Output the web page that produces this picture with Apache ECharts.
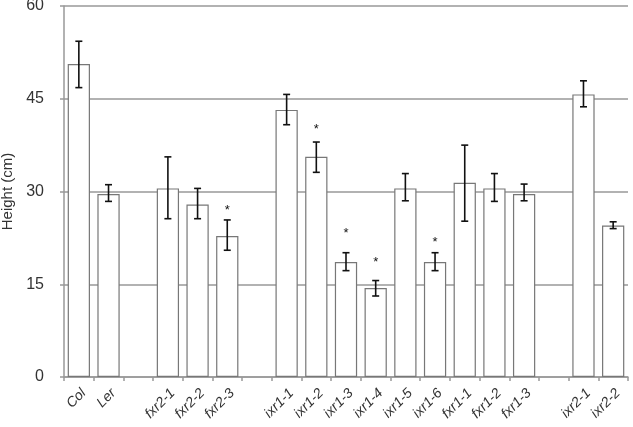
<!DOCTYPE html>
<html>
<head>
<meta charset="utf-8">
<script src="https://cdn.jsdelivr.net/npm/echarts@6/dist/echarts.min.js"></script>
<style>html,body{margin:0;padding:0;background:#fff}#c{width:633px;height:427px}</style>
</head>
<body>
<div id="c"></div>
<script>
var categories = ['Col', 'Ler', ' ', 'fxr2-1', 'fxr2-2', 'fxr2-3', '  ', 'ixr1-1', 'ixr1-2', 'ixr1-3', 'ixr1-4', 'ixr1-5', 'ixr1-6', 'fxr1-1', 'fxr1-2', 'fxr1-3', '   ', 'ixr2-1', 'ixr2-2'];
var heights = [50.6, 29.6, null, 30.5, 27.9, 22.8, null, 43.2, 35.6, 18.6, 14.4, 30.5, 18.6, 31.4, 30.5, 29.6, null, 45.7, 24.5];
var errLow  = [46.8, 28.4, null, 25.6, 25.6, 20.5, null, 40.8, 33.1, 17.2, 13.1, 28.5, 17.2, 25.2, 28.4, 28.5, null, 43.7, 24.0];
var errHigh = [54.3, 31.1, null, 35.6, 30.5, 25.4, null, 45.7, 38.0, 20.1, 15.6, 32.9, 20.1, 37.5, 32.9, 31.2, null, 47.9, 25.1];
var starPos = [null, null, null, null, null, 26.9, null, null, 40.0, 23.3, 18.6, null, 21.7, null, null, null, null, null, null];
var yTicks = [0, 15, 30, 45, 60];

var font = '"Liberation Sans", Arial, sans-serif';
var errData = [];
var starData = [];
for (var i = 0; i < categories.length; i++) {
  if (errLow[i] != null) errData.push([i, errLow[i], errHigh[i]]);
  if (starPos[i] != null) starData.push([i, starPos[i]]);
}

var chart = echarts.init(document.getElementById('c'));
chart.setOption({
  animation: false,
  grid: {left: 64, right: 5, top: 6, bottom: 50, containLabel: false, outerBoundsMode: 'none'},
  xAxis: {
    type: 'category',
    data: categories,
    boundaryGap: true,
    axisLine: {lineStyle: {color: '#999', width: 1.5}},
    axisTick: {show: true, length: 4, lineStyle: {color: '#999', width: 1.5}, interval: 0},
    axisLabel: {interval: 0, rotate: 45, fontStyle: 'italic', fontFamily: font, fontSize: 14, color: '#333', margin: 9, verticalAlign: 'top'}
  },
  yAxis: {
    type: 'value',
    min: yTicks[0], max: yTicks[yTicks.length - 1], interval: 15,
    name: 'Height (cm)',
    nameLocation: 'middle',
    nameGap: 44,
    nameTextStyle: {fontFamily: font, fontSize: 15, color: '#333'},
    axisLine: {show: true, lineStyle: {color: '#999', width: 1.5}},
    axisTick: {show: true, length: 4, lineStyle: {color: '#999', width: 1.5}},
    axisLabel: {fontFamily: font, fontSize: 16, color: '#333', margin: 20,
      formatter: function (v) { return yTicks.indexOf(v) >= 0 ? String(v) : ''; }},
    splitLine: {show: true, lineStyle: {color: '#999', width: 1.5}}
  },
  series: [
    {
      type: 'bar',
      data: heights,
      barWidth: '75%',
      itemStyle: {color: '#fff', borderColor: '#777', borderWidth: 1.2},
      z: 2
    },
    {
      type: 'custom',
      data: errData,
      z: 3,
      renderItem: function (params, api) {
        var x = api.value(0);
        var lo = api.coord([x, api.value(1)]);
        var hi = api.coord([x, api.value(2)]);
        var hw = 3.5;
        var st = {stroke: '#111', lineWidth: 1.6};
        return {type: 'group', children: [
          {type: 'line', shape: {x1: lo[0], y1: lo[1], x2: hi[0], y2: hi[1]}, style: st},
          {type: 'line', shape: {x1: lo[0] - hw, y1: lo[1], x2: lo[0] + hw, y2: lo[1]}, style: st},
          {type: 'line', shape: {x1: hi[0] - hw, y1: hi[1], x2: hi[0] + hw, y2: hi[1]}, style: st}
        ]};
      }
    },
    {
      type: 'custom',
      data: starData,
      z: 4,
      renderItem: function (params, api) {
        var p = api.coord([api.value(0), api.value(1)]);
        return {type: 'text', x: p[0], y: p[1], style: {text: '*', fill: '#111', font: '13px ' + font, align: 'center', verticalAlign: 'middle'}};
      }
    }
  ]
});
</script>
</body>
</html>
